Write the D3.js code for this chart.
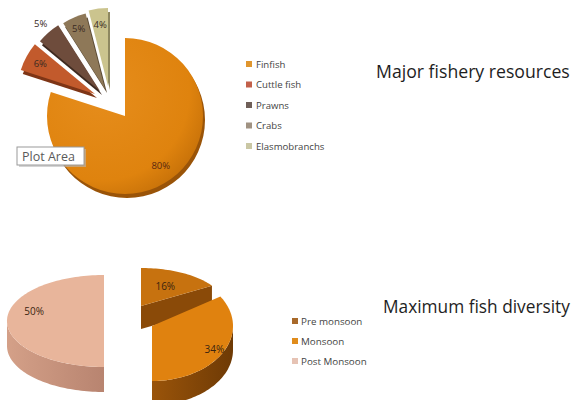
<!DOCTYPE html>
<html>
<head>
<meta charset="utf-8">
<script src="https://cdn.jsdelivr.net/npm/d3@7"></script>
<style>
  body { margin: 0; background: #fff; }
  svg { display: block; }
</style>
</head>
<body>
<svg id="chart" width="572" height="400"></svg>
<script>
// ---- Major fishery resources (share of catch, %) ----
const resourceNames  = ["Finfish", "Cuttle fish", "Prawns", "Crabs", "Elasmobranchs"];
const resourceShares = [80, 6, 5, 5, 4];

// ---- Maximum fish diversity by season (%) ----
const seasonNames  = ["Pre monsoon", "Monsoon", "Post Monsoon"];
const seasonShares = [16, 34, 50];

const svg = d3.select("#chart");
const defs = svg.append("defs");
const labelFont = "'Open Sans', 'Noto Sans', sans-serif";
const titleFont = "'Open Sans', 'Noto Sans', sans-serif";

// ================= Top pie (exploded) =================
const topPie = {
  cx: 125, cy: 116, r: 78,
  explode: [[0, 0], [-30, -22], [-25, -25], [-20, -27], [-17, -30]],
  labelAt: [0.78, 0.8, 1.15, 0.85, 0.8],
  fill:  ["#e0840f", "#c25a2c", "#6e4c3c", "#8e7858", "#cbc48e"],
  shade: ["#9a5408", "#7e3516", "#3e2a20", "#5a4a34", "#8e8860"],
  key:   ["#e0962e", "#c2604a", "#6f5f58", "#a09282", "#cac7a4"]
};

const pieTop = d3.pie().sort(null).startAngle(0).endAngle(2 * Math.PI);
const arcTop = d3.arc().innerRadius(0).outerRadius(topPie.r);
const topArcs = pieTop(resourceShares);

const gradFin = defs.append("radialGradient").attr("id", "finGrad")
  .attr("cx", "35%").attr("cy", "35%").attr("r", "75%");
gradFin.append("stop").attr("offset", "0%").attr("stop-color", "#e68d1c");
gradFin.append("stop").attr("offset", "75%").attr("stop-color", "#df830e");
gradFin.append("stop").attr("offset", "100%").attr("stop-color", "#c46f08");

const gTop = svg.append("g").attr("transform", `translate(${topPie.cx},${topPie.cy})`);

topArcs.forEach((d, i) => {
  const [dx, dy] = topPie.explode[i];
  const g = gTop.append("g").attr("transform", `translate(${dx},${dy})`);
  // thin extruded edge beneath each slice
  g.append("path").attr("d", arcTop(d))
    .attr("transform", "translate(2,4)")
    .attr("fill", topPie.shade[i]);
  g.append("path").attr("d", arcTop(d))
    .attr("fill", i === 0 ? "url(#finGrad)" : topPie.fill[i]);
});

topArcs.forEach((d, i) => {
  const [dx, dy] = topPie.explode[i];
  const mid = (d.startAngle + d.endAngle) / 2;
  const rr = topPie.r * topPie.labelAt[i];
  gTop.append("text")
    .attr("x", dx + rr * Math.sin(mid))
    .attr("y", dy - rr * Math.cos(mid))
    .attr("text-anchor", "middle")
    .attr("dominant-baseline", "central")
    .attr("font-family", labelFont)
    .attr("font-size", 9.5)
    .attr("fill", i === 0 ? "#5a2810" : "#3a2a22")
    .text(d.data + "%");
});

// "Plot Area" hover tag
const tag = svg.append("g").attr("transform", "translate(17,147)");
tag.append("rect").attr("x", 2).attr("y", 2).attr("width", 67).attr("height", 18)
  .attr("fill", "#b8b8b8").attr("opacity", 0.6);
tag.append("rect").attr("width", 67).attr("height", 18)
  .attr("fill", "#fff").attr("stroke", "#9a9a9a").attr("stroke-width", 1);
tag.append("text").attr("x", 5).attr("y", 13.5)
  .attr("font-family", labelFont).attr("font-size", 12.5)
  .attr("fill", "#5a5a5a").text("Plot Area");

// Legend (top)
const legTop = svg.append("g").attr("transform", "translate(246,64)");
resourceNames.forEach((name, i) => {
  const y = i * 20.5;
  legTop.append("rect").attr("x", 0).attr("y", y - 3).attr("width", 6).attr("height", 6)
    .attr("fill", topPie.key[i]);
  legTop.append("text").attr("x", 10).attr("y", y).attr("dominant-baseline", "central")
    .attr("font-family", labelFont).attr("font-size", 9.6).attr("fill", "#444")
    .text(name);
});

// Titles, sized to span a given width
function title(text, x, y, width) {
  const t = svg.append("text").attr("x", x).attr("y", y)
    .attr("font-family", titleFont).attr("font-size", 16).attr("fill", "#1e1e1e")
    .text(text);
  const w = t.node().getComputedTextLength();
  t.attr("font-size", 16 * width / w);
}
title("Major fishery resources", 376, 78, 194);
title("Maximum fish diversity", 383, 313, 187);

// ================= Bottom pie (3-D, exploded) =================
const seasonLayout = [
  { cx: 141, cy: 306, rx: 84, ry: 38, depth: 23, label: [0.6, 0, 0] },
  { cx: 152, cy: 326, rx: 81, ry: 55, depth: 24, label: [0.88, 0, 0] },
  { cx: 104, cy: 321, rx: 97, ry: 46, depth: 25, label: [0.72, 0, -10] }
];
const seasonTop  = ["#c7720f", "#e0820f", "#e8b59b"];
const seasonSide = [["#8a4a08", "#6a3604"], ["#9a540a", "#6e3a05"], ["#d4a088", "#b88470"]];
const seasonKey  = ["#a8692a", "#e08c1c", "#e6c3b4"];

seasonSide.forEach((c, i) => {
  const lg = defs.append("linearGradient").attr("id", "side" + i)
    .attr("x1", "0%").attr("x2", "100%").attr("y1", "0%").attr("y2", "0%");
  lg.append("stop").attr("offset", "0%").attr("stop-color", c[0]);
  lg.append("stop").attr("offset", "100%").attr("stop-color", c[1]);
});

const pieSeason = d3.pie().sort(null).startAngle(0).endAngle(2 * Math.PI);
const seasonArcs = pieSeason(seasonShares);
const line = d3.line();

function ept(L, a, drop = 0) {
  return [L.cx + L.rx * Math.sin(a), L.cy - L.ry * Math.cos(a) + drop];
}
function arcPts(L, a0, a1, drop = 0) {
  const n = Math.max(2, Math.ceil(Math.abs(a1 - a0) / 0.03));
  return d3.range(n + 1).map(k => ept(L, a0 + (a1 - a0) * k / n, drop));
}

// back-to-front drawing order
const order = d3.range(seasonArcs.length).sort((a, b) => seasonLayout[a].cy - seasonLayout[b].cy);
const gBot = svg.append("g");

order.forEach(i => {
  const d = seasonArcs[i], L = seasonLayout[i];
  const a0 = d.startAngle, a1 = d.endAngle;
  const c = [L.cx, L.cy], cd = [L.cx, L.cy + L.depth];
  const sideFill = `url(#side${i})`;

  // radial cut faces that face the viewer
  if (Math.sin(a1) > 0.01) {
    gBot.append("path").attr("d", line([c, ept(L, a1), ept(L, a1, L.depth), cd]) + "Z")
      .attr("fill", seasonSide[i][0]);
  }
  if (-Math.sin(a0) > 0.01) {
    gBot.append("path").attr("d", line([c, ept(L, a0), ept(L, a0, L.depth), cd]) + "Z")
      .attr("fill", seasonSide[i][0]);
  }
  // curved outer wall on the front half
  const s = Math.max(a0, Math.PI / 2), e = Math.min(a1, 3 * Math.PI / 2);
  if (e > s) {
    const pts = arcPts(L, s, e).concat(arcPts(L, e, s, L.depth));
    gBot.append("path").attr("d", line(pts) + "Z").attr("fill", sideFill);
  }
  // top face
  gBot.append("path").attr("d", line([c].concat(arcPts(L, a0, a1))) + "Z")
    .attr("fill", seasonTop[i]);
});

seasonArcs.forEach((d, i) => {
  const L = seasonLayout[i];
  const mid = (d.startAngle + d.endAngle) / 2;
  const f = L.label[0];
  gBot.append("text")
    .attr("x", L.cx + f * L.rx * Math.sin(mid) + L.label[1])
    .attr("y", L.cy - f * L.ry * Math.cos(mid) + L.label[2])
    .attr("text-anchor", "middle").attr("dominant-baseline", "central")
    .attr("font-family", labelFont).attr("font-size", 10).attr("fill", "#3a2410")
    .text(d.data + "%");
});

// Legend (bottom)
const legBot = svg.append("g").attr("transform", "translate(292,321)");
seasonNames.forEach((name, i) => {
  const y = i * 20;
  legBot.append("rect").attr("x", 0).attr("y", y - 3).attr("width", 6).attr("height", 6)
    .attr("fill", seasonKey[i]);
  legBot.append("text").attr("x", 9).attr("y", y).attr("dominant-baseline", "central")
    .attr("font-family", labelFont).attr("font-size", 9.8).attr("fill", "#444")
    .text(name);
});
</script>
</body>
</html>
